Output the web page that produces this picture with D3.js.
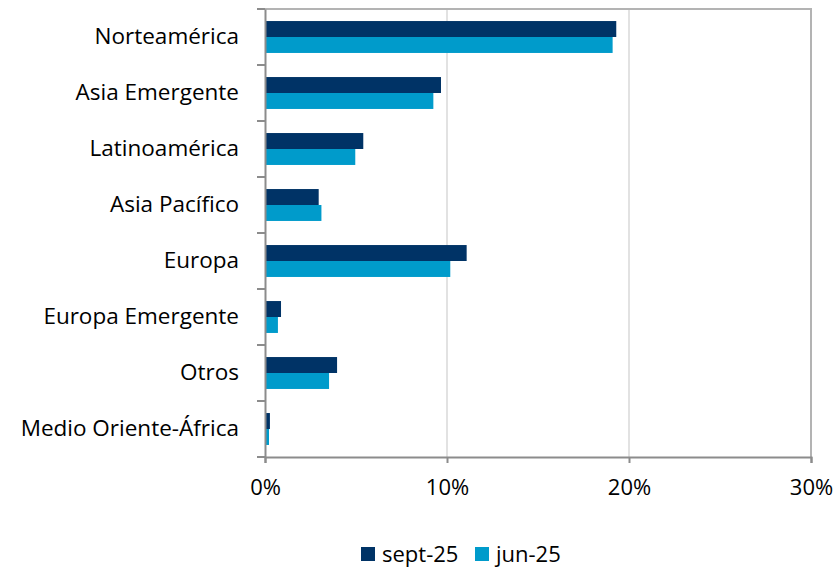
<!DOCTYPE html>
<html>
<head>
<meta charset="utf-8">
<script src="https://cdn.jsdelivr.net/npm/d3@7"></script>
<style>
  body { margin: 0; background: #fff; }
  svg { font-family: "Open Sans", sans-serif; }
</style>
</head>
<body>
<div id="chart"></div>
<script>
// datos
var categorias = ["Norteamérica", "Asia Emergente", "Latinoamérica", "Asia Pacífico ",
  "Europa", "Europa Emergente", "Otros", "Medio Oriente-África"];
var series = ["sept-25", "jun-25"];
var sept25 = [19.3, 9.67, 5.4, 2.95, 11.08, 0.88, 3.96, 0.27];
var jun25 = [19.1, 9.25, 4.96, 3.1, 10.18, 0.71, 3.52, 0.22];
var ticksX = [0, 10, 20, 30];
var colores = ["#003366", "#009BCB"];

var width = 838, height = 571;
var margin = { top: 9, right: 27, bottom: 114, left: 265 };
var w = width - margin.left - margin.right;
var h = height - margin.top - margin.bottom;
var fuente = "'Open Sans', sans-serif";

var svg = d3.select("#chart").append("svg")
  .attr("width", width)
  .attr("height", height);

var g = svg.append("g")
  .attr("transform", "translate(" + margin.left + "," + margin.top + ")");

// escalas
var x = d3.scaleLinear().domain([0, 30]).range([0, w]);
var y = d3.scaleBand().domain(categorias).range([0, h]);
var ySub = d3.scaleBand().domain(series).range([y.bandwidth() * 0.215, y.bandwidth() * 0.785]);

// rejilla
g.append("g").selectAll("line")
  .data(ticksX.slice(1, 3))
  .enter().append("line")
  .attr("x1", d => x(d)).attr("x2", d => x(d))
  .attr("y1", 0).attr("y2", h)
  .attr("stroke", "#d9d9d9").attr("stroke-width", 1.5);

// borde superior y derecho
g.append("path")
  .attr("d", "M0,0H" + w + "V" + h)
  .attr("fill", "none")
  .attr("stroke", "#b3b3b3")
  .attr("stroke-width", 2);

// barras
var datos = categorias.map((c, i) => ({ cat: c, vals: [sept25[i], jun25[i]] }));
var grupos = g.append("g").selectAll("g")
  .data(datos)
  .enter().append("g")
  .attr("transform", d => "translate(0," + y(d.cat) + ")");

grupos.selectAll("rect")
  .data(d => d.vals.map((v, j) => ({ serie: series[j], v: v, j: j })))
  .enter().append("rect")
  .attr("x", x(0))
  .attr("y", d => ySub(d.serie))
  .attr("width", d => x(d.v) - x(0))
  .attr("height", ySub.bandwidth())
  .attr("fill", d => colores[d.j]);

// ejes
var ejeX = g.append("g")
  .attr("transform", "translate(0," + h + ")")
  .call(d3.axisBottom(x).tickValues(ticksX).tickFormat(d => d + "%").tickSize(6).tickPadding(16));
ejeX.select(".domain").attr("stroke", "#8c8c8c").attr("stroke-width", 2);
ejeX.selectAll(".tick line").attr("stroke", "#8c8c8c").attr("stroke-width", 2);
ejeX.selectAll("text").attr("font-size", 22).attr("fill", "#000").attr("font-family", fuente);

var ejeY = g.append("g")
  .call(d3.axisLeft(y).tickSize(0).tickPadding(26));
ejeY.select(".domain").attr("stroke", "#8c8c8c").attr("stroke-width", 2);
ejeY.selectAll("text").attr("font-size", 22.5).attr("fill", "#000").attr("font-family", fuente);

// marcas entre categorías
g.append("g").selectAll("line")
  .data(categorias.concat(["fin"]))
  .enter().append("line")
  .attr("x1", -8).attr("x2", 0)
  .attr("y1", (d, i) => i * y.step()).attr("y2", (d, i) => i * y.step())
  .attr("stroke", "#8c8c8c").attr("stroke-width", 2);

// leyenda
var leyenda = svg.append("g").attr("transform", "translate(361,547)");
var posLeyenda = [0, 114];
series.forEach(function (s, i) {
  leyenda.append("rect")
    .attr("x", posLeyenda[i]).attr("y", 0)
    .attr("width", 14).attr("height", 14)
    .attr("fill", colores[i]);
  leyenda.append("text")
    .attr("x", posLeyenda[i] + 21).attr("y", 15)
    .attr("font-size", 22)
    .attr("font-family", fuente)
    .text(s);
});
</script>
</body>
</html>
